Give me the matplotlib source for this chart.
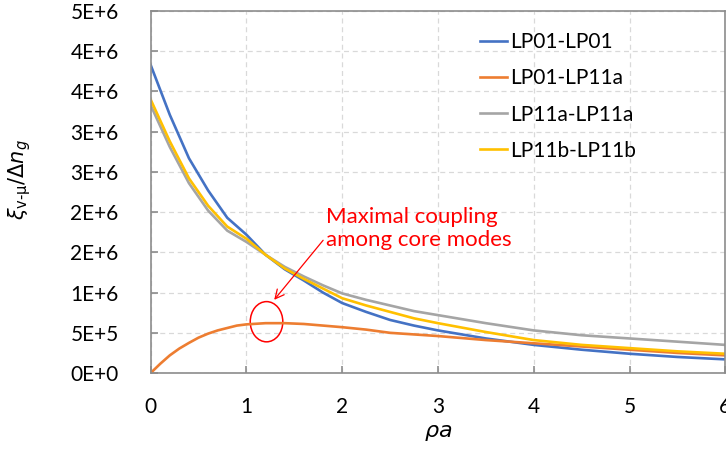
import matplotlib
matplotlib.use("Agg")
import matplotlib.pyplot as plt
from matplotlib.patches import Ellipse

plt.rcParams['font.family'] = ['Lato', 'DejaVu Sans']
plt.rcParams['mathtext.fontset'] = 'dejavusans'

# normalized propagation-constant axis
rho_a = [0, 0.2, 0.4, 0.6, 0.8, 1.0, 1.2, 1.4, 1.6, 1.8, 2.0,
         2.25, 2.5, 2.75, 3.0, 3.5, 4.0, 4.5, 5.0, 5.5, 6.0]
rho_a_cross = [0, 0.1, 0.2, 0.3, 0.4, 0.5, 0.6, 0.7, 0.8, 0.9, 1.0, 1.2, 1.4,
               1.6, 1.8, 2.0, 2.25, 2.5, 2.75, 3.0, 3.5, 4.0, 4.5, 5.0, 5.5, 6.0]

# coupling coefficients (in units of 1E+6)
lp01_lp01 = [3.83, 3.21, 2.67, 2.27, 1.93, 1.72, 1.47, 1.29, 1.15, 1.00, 0.87,
             0.76, 0.66, 0.59, 0.53, 0.43, 0.35, 0.29, 0.24, 0.20, 0.17]
lp01_lp11a = [0.0, 0.115, 0.22, 0.305, 0.375, 0.44, 0.49, 0.53, 0.56, 0.59,
              0.605, 0.62, 0.62, 0.61, 0.59, 0.57, 0.54, 0.50, 0.48, 0.46,
              0.41, 0.37, 0.33, 0.29, 0.25, 0.22]
lp11a_lp11a = [3.33, 2.81, 2.36, 2.02, 1.77, 1.63, 1.47, 1.32, 1.20, 1.09, 0.99,
               0.91, 0.84, 0.77, 0.72, 0.62, 0.53, 0.47, 0.43, 0.39, 0.35]
lp11b_lp11b = [3.40, 2.88, 2.42, 2.08, 1.82, 1.67, 1.47, 1.30, 1.17, 1.05, 0.93,
               0.84, 0.76, 0.68, 0.62, 0.51, 0.41, 0.35, 0.31, 0.27, 0.24]

series_names = ['LP01-LP01', 'LP01-LP11a', 'LP11a-LP11a', 'LP11b-LP11b']
series_colors = ['#4472C4', '#ED7D31', '#A5A5A5', '#FFC000']

xticks = [0, 1, 2, 3, 4, 5, 6]
yticks = [0, 0.5, 1.0, 1.5, 2.0, 2.5, 3.0, 3.5, 4.0, 4.5]
ytick_labels = ['0E+0', '5E+5', '1E+6', '2E+6', '2E+6', '3E+6', '3E+6',
                '4E+6', '4E+6', '5E+6']

scale = 1e6

fig = plt.figure(figsize=(7.26, 4.5), dpi=100)
ax = fig.add_axes([0.2075, 0.171, 0.7915, 0.8045])

series = [(rho_a, lp01_lp01), (rho_a_cross, lp01_lp11a),
          (rho_a, lp11a_lp11a), (rho_a, lp11b_lp11b)]
for (xs, ys), name, col in zip(series, series_names, series_colors):
    ax.plot(xs, [v * scale for v in ys], color=col, lw=1.9,
            label=name, solid_joinstyle='round')

ax.set_xlim(0, 6)
ax.set_ylim(0, 4.5 * scale)
ax.set_xticks(xticks)
ax.set_xticklabels([str(t) for t in xticks])
ax.set_yticks([t * scale for t in yticks])
ax.set_yticklabels(ytick_labels)

ax.grid(True, color='#D9D9D9', linestyle=(0, (4, 3)), linewidth=0.9)
ax.set_axisbelow(True)
for s in ax.spines.values():
    s.set_color('#8C8C8C')
    s.set_linewidth(1.2)
ax.tick_params(direction='in', length=5, width=1.2, color='#8C8C8C',
               labelsize=15, labelcolor='black')
ax.tick_params(axis='x', pad=17.5)
ax.tick_params(axis='y', pad=23)

ax.set_xlabel(r'$\rho a$', fontsize=16, labelpad=4)
ax.set_ylabel(r'$\xi_{\mathrm{v\text{-}\mu}}/\Delta n_g$', fontsize=15)
ax.yaxis.set_label_coords(-0.205, 0.535)

leg = ax.legend(loc='upper left', bbox_to_anchor=(0.558, 0.965), frameon=False,
                fontsize=15, handlelength=1.3, handletextpad=0.15,
                labelspacing=0.78, borderaxespad=0)

# highlight of the maximal coupling point
ax.add_patch(Ellipse((1.21, 0.638 * scale), 0.34, 0.50 * scale,
                     fill=False, edgecolor='red', lw=1.1))
ax.annotate('Maximal coupling\namong core modes',
            xy=(1.29, 0.91 * scale), xytext=(1.83, 1.80 * scale),
            color='red', fontsize=16, ha='left', va='center',
            linespacing=1.2,
            arrowprops=dict(arrowstyle='->', color='red', lw=0.9,
                            shrinkA=0, shrinkB=0,
                            relpos=(0.0, 0.3)))

fig.savefig('out.png', dpi=100)
